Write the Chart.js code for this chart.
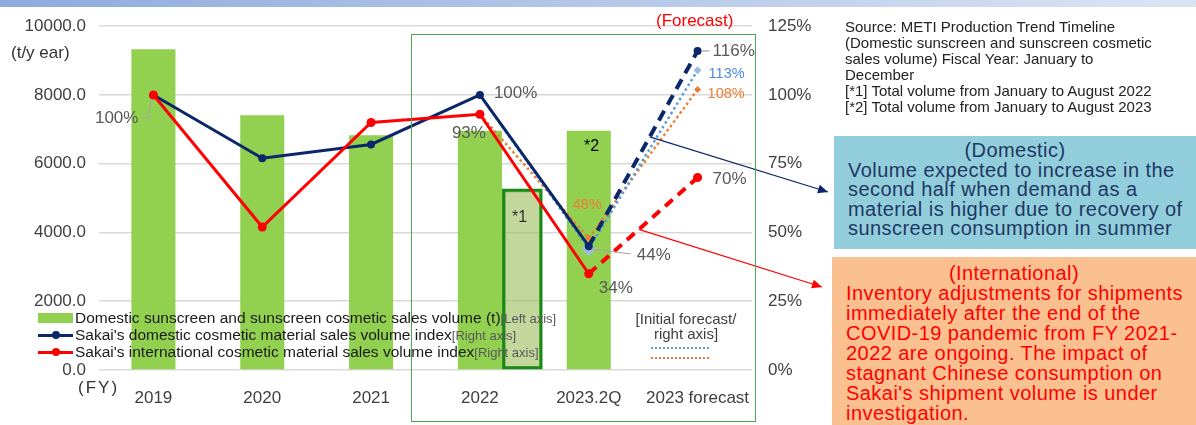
<!DOCTYPE html>
<html><head><meta charset="utf-8">
<script src="https://cdn.jsdelivr.net/npm/chart.js@4.4.1/dist/chart.umd.min.js"></script>
<style>
html,body{margin:0;padding:0;background:#fff;}
body{width:1196px;height:425px;position:relative;overflow:hidden;font-family:"Liberation Sans",Arial,sans-serif;}
#topband{position:absolute;left:0;top:0;width:1196px;height:7px;background:linear-gradient(to right,#8eabdd,#dbe4f4);}
#c{position:absolute;left:0;top:0;}
.abs{position:absolute;white-space:nowrap;}
.leg{font-size:15.5px;line-height:18px;color:#1a1a1a;}
.ax{font-size:13px;color:#595959;}
.src{font-size:15px;line-height:16px;color:#222;}
.box{position:absolute;box-sizing:border-box;font-size:20px;letter-spacing:0.45px;white-space:nowrap;}
</style></head>
<body>
<div id="topband"></div>
<canvas id="c" width="1196" height="425"></canvas>

<!-- green frame around 2022 - forecast -->
<div class="abs" style="left:411px;top:34px;width:343px;height:386px;border:1.5px solid #4aa84a;"></div>

<div class="abs" style="left:11px;top:43px;font-size:17px;color:#333;">(t/y ear)</div>
<div class="abs" style="left:78px;top:378px;font-size:17px;color:#333;letter-spacing:2px;">(FY)</div>
<div class="abs" style="left:656px;top:11px;font-size:17px;color:#ff0000;">(Forecast)</div>
<div class="abs" style="left:512px;top:208px;font-size:16px;color:#333;">*1</div>
<div class="abs" style="left:584px;top:137px;font-size:16px;color:#000;">*2</div>

<!-- legend -->
<div class="abs" style="left:38px;top:313px;width:35px;height:10px;background:#92d050;"></div>
<div class="abs leg" style="left:75px;top:309px;">Domestic sunscreen and sunscreen cosmetic sales volume (t)<span class="ax">[Left axis]</span></div>
<div class="abs" style="left:38px;top:334px;width:35px;height:3px;background:#0c2769;"></div>
<div class="abs" style="left:52px;top:331px;width:8px;height:8px;border-radius:50%;background:#0c2769;"></div>
<div class="abs leg" style="left:75px;top:326px;">Sakai's domestic cosmetic material sales volume index<span class="ax">[Right axis]</span></div>
<div class="abs" style="left:38px;top:351px;width:35px;height:3px;background:#ff0000;"></div>
<div class="abs" style="left:52px;top:348px;width:8px;height:8px;border-radius:50%;background:#ff0000;"></div>
<div class="abs leg" style="left:75px;top:343px;">Sakai's international cosmetic material sales volume index<span class="ax">[Right axis]</span></div>

<!-- initial forecast legend -->
<div class="abs" style="left:630px;top:311px;width:112px;text-align:center;font-size:15px;line-height:15px;color:#404040;">[Initial forecast/<br>right axis]</div>
<div class="abs" style="left:651px;top:347px;width:58px;height:0;border-top:2.5px dotted #5b9bd5;"></div>
<div class="abs" style="left:651px;top:357px;width:58px;height:0;border-top:2.5px dotted #ed7d31;"></div>

<!-- right notes -->
<div class="abs src" style="left:845px;top:19px;">Source: METI Production Trend Timeline<br>(Domestic sunscreen and sunscreen cosmetic<br>sales volume) Fiscal Year: January to<br>December<br>[*1] Total volume from January to August 2022<br>[*2] Total volume from January to August 2023</div>

<div class="box" style="left:834px;top:136px;width:362px;height:113px;background:#92cddc;color:#1f3864;padding:5px 0 0 14px;line-height:19.5px;">
<div style="text-align:center;margin-left:-14px;">(Domestic)</div>
Volume expected to increase in the<br>second half when demand as a<br>material is higher due to recovery of<br>sunscreen consumption in summer</div>

<div class="box" style="left:832px;top:257px;width:364px;height:168px;background:#fac090;color:#ff0000;padding:6px 0 0 14px;line-height:20px;">
<div style="text-align:center;margin-left:-14px;">(International)</div>
Inventory adjustments for shipments<br>immediately after the end of the<br>COVID-19 pandemic from FY 2021-<br>2022 are ongoing. The impact of<br>stagnant Chinese consumption on<br>Sakai's shipment volume is under<br>investigation.</div>

<script>
const categories = ['2019', '2020', '2021', '2022', '2023.2Q', '2023 forecast'];
const sunscreenVolume = [9330, 7410, 6830, 6960, 6960, null];
const janAug2022Volume = 5270;
const janAug2022Slot = 3.89;   // position on a 0..6 slot axis (category i spans i..i+1)
const domesticIndex = [100, 77, 82, 100, 45, 116];
const internationalIndex = [100, 52, 90, 93, 35, 70];
const initialDomesticForecast = [null, null, null, 100, 44, 109];
const initialInternationalForecast = [null, null, null, 93, 48, 102];
const leftTicks = [0, 2000, 4000, 6000, 8000, 10000];
const leftTickLabels = ['0.0', '2000.0', '4000.0', '6000.0', '8000.0', '10000.0'];
const rightTicks = [0, 25, 50, 75, 100, 125];
const rightTickLabels = ['0%', '25%', '50%', '75%', '100%', '125%'];
const domesticLabels = ['100%', '', '', '100%', '44%', '116%'];
const internationalLabels = ['', '', '', '93%', '34%', '70%'];
const initialDomesticLabels = ['', '', '', '', '', '113%'];
const initialInternationalLabels = ['', '', '', '', '48%', '108%'];

const FONT = "'Liberation Sans', Arial, sans-serif";
Chart.defaults.font.family = FONT;

const NAVY = '#0c2769', RED = '#ff0000', LBLUE = '#5b9bd5', ORANGE = '#ed7d31';

const labelStyle = [
  [0, domesticLabels, {0: [-15, 23, 'right', '#595959', 17], 3: [14, -2, 'left', '#595959', 17], 4: [48, 9, 'left', '#595959', 17], 5: [15, 0, 'left', '#595959', 17]}],
  [1, internationalLabels, {3: [-28, 19, 'left', '#595959', 17], 4: [10, 15, 'left', '#595959', 17], 5: [15, 2, 'left', '#595959', 17]}],
  [2, initialDomesticLabels, {5: [11, 4, 'left', '#4a8bd8', 14.5]}],
  [3, initialInternationalLabels, {4: [-16, -33, 'left', ORANGE, 14.5], 5: [10, 5, 'left', ORANGE, 14.5]}]
];

const annot = {
  id: 'annot',
  afterDatasetsDraw(chart) {
    const ctx = chart.ctx;
    const pt = (ds, i) => chart.getDatasetMeta(ds).data[i];
    ctx.save();
    ctx.strokeStyle = '#a6a6a6'; ctx.lineWidth = 1.2;
    const p0 = pt(0, 0);
    ctx.beginPath(); ctx.moveTo(p0.x - 12, p0.y + 23); ctx.lineTo(p0.x - 5, p0.y + 23); ctx.lineTo(p0.x - 2, p0.y + 4); ctx.stroke();
    const pd = pt(2, 4);
    ctx.beginPath(); ctx.moveTo(pd.x + 3, pd.y); ctx.lineTo(pd.x + 42, pd.y + 5); ctx.stroke();
    const p5 = pt(0, 5);
    ctx.beginPath(); ctx.moveTo(p5.x + 4, p5.y); ctx.lineTo(p5.x + 12, p5.y); ctx.stroke();
    ctx.textBaseline = 'middle';
    labelStyle.forEach(([ds, texts, pos]) => {
      Object.keys(pos).forEach(k => {
        const i = +k; const t = texts[i]; if (!t) return;
        const [dx, dy, al, col, sz] = pos[k];
        const p = pt(ds, i);
        ctx.font = sz + 'px ' + FONT; ctx.fillStyle = col; ctx.textAlign = al;
        ctx.fillText(t, p.x + dx, p.y + dy);
      });
    });
    const arrow = (ds, t, ex, ey, col) => {
      const a = pt(ds, 4), b = pt(ds, 5);
      const sx = a.x + (b.x - a.x) * t, sy = a.y + (b.y - a.y) * t;
      ctx.strokeStyle = col; ctx.fillStyle = col; ctx.lineWidth = 1.3;
      ctx.beginPath(); ctx.moveTo(sx, sy); ctx.lineTo(ex, ey); ctx.stroke();
      const ang = Math.atan2(ey - sy, ex - sx), L = 10, W = 4.5;
      ctx.beginPath();
      ctx.moveTo(ex, ey);
      ctx.lineTo(ex - L * Math.cos(ang) + W * Math.sin(ang), ey - L * Math.sin(ang) - W * Math.cos(ang));
      ctx.lineTo(ex - L * Math.cos(ang) - W * Math.sin(ang), ey - L * Math.sin(ang) + W * Math.cos(ang));
      ctx.closePath(); ctx.fill();
    };
    arrow(0, 0.56, 828, 192, NAVY);
    arrow(1, 0.46, 822, 287, RED);
    ctx.restore();
  }
};

new Chart(document.getElementById('c'), {
  data: {
    labels: categories,
    datasets: [
      {type: 'line', label: 'domestic', data: domesticIndex, yAxisID: 'y1', xAxisID: 'x', order: 1,
       borderColor: NAVY, backgroundColor: NAVY, borderWidth: 3, pointRadius: 4, pointBorderWidth: 0,
       pointBackgroundColor: NAVY, tension: 0,
       segment: {borderDash: c => c.p0DataIndex === 4 ? [11, 7] : undefined, borderWidth: c => c.p0DataIndex === 4 ? 4 : 3}},
      {type: 'line', label: 'international', data: internationalIndex, yAxisID: 'y1', xAxisID: 'x', order: 0,
       borderColor: RED, backgroundColor: RED, borderWidth: 3, pointRadius: 4.5, pointBorderWidth: 0,
       pointBackgroundColor: RED, tension: 0,
       segment: {borderDash: c => c.p0DataIndex === 4 ? [10, 7] : undefined, borderWidth: c => c.p0DataIndex === 4 ? 4 : 3}},
      {type: 'line', label: 'initial domestic', data: initialDomesticForecast, yAxisID: 'y1', xAxisID: 'x', order: 2,
       borderColor: LBLUE, borderWidth: 2.5, borderDash: [2.5, 3], pointStyle: 'rectRot',
       pointRadius: [0, 0, 0, 0, 7, 4], pointBackgroundColor: '#9dbbe3', pointBorderWidth: 0},
      {type: 'line', label: 'initial international', data: initialInternationalForecast, yAxisID: 'y1', xAxisID: 'x', order: 3,
       borderColor: ORANGE, borderWidth: 2.5, borderDash: [2.5, 3], pointStyle: 'rectRot',
       pointRadius: [0, 0, 0, 0, 3.5, 3.5], pointBackgroundColor: ORANGE, pointBorderWidth: 0},
      {type: 'bar', label: 'sunscreen', data: sunscreenVolume, yAxisID: 'y', xAxisID: 'x', order: 10,
       backgroundColor: '#92d050', barPercentage: 0.405, categoryPercentage: 1, grouped: false},
      {type: 'bar', label: 'Jan-Aug 2022', data: [{x: janAug2022Slot, y: janAug2022Volume}], yAxisID: 'y', xAxisID: 'x2', order: 9,
       backgroundColor: 'rgba(155,187,89,0.6)', borderColor: '#178a17', borderWidth: 3, borderSkipped: false,
       barThickness: 40, grouped: false}
    ]
  },
  options: {
    responsive: false, animation: false, devicePixelRatio: 1,
    layout: {padding: {left: 0, top: 24, right: 376, bottom: 0}},
    plugins: {legend: {display: false}, tooltip: {enabled: false}},
    scales: {
      x: {type: 'category', offset: true, grid: {display: false}, border: {display: false},
          ticks: {font: {size: 17}, color: '#404040', padding: 10, maxRotation: 0, autoSkip: false},
          afterFit: s => { s.height = 55; }},
      x2: {type: 'linear', min: 0, max: 6, offset: false, display: false},
      y: {position: 'left', min: 0, max: 10000, afterBuildTicks: s => { s.ticks = leftTicks.map(v => ({value: v})); },
          ticks: {font: {size: 17}, color: '#404040', padding: 13, callback: v => leftTickLabels[leftTicks.indexOf(v)]},
          grid: {color: '#d9d9d9', lineWidth: 1.5, drawTicks: false}, border: {display: false},
          afterFit: s => { s.width = 99; }},
      y1: {position: 'right', min: 0, max: 125, afterBuildTicks: s => { s.ticks = rightTicks.map(v => ({value: v})); },
          ticks: {font: {size: 17}, color: '#404040', padding: 16, callback: v => rightTickLabels[rightTicks.indexOf(v)]},
          grid: {display: false, drawTicks: false}, border: {display: false},
          afterFit: s => { s.width = 68; }}
    }
  },
  plugins: [annot]
});
</script>
</body></html>
